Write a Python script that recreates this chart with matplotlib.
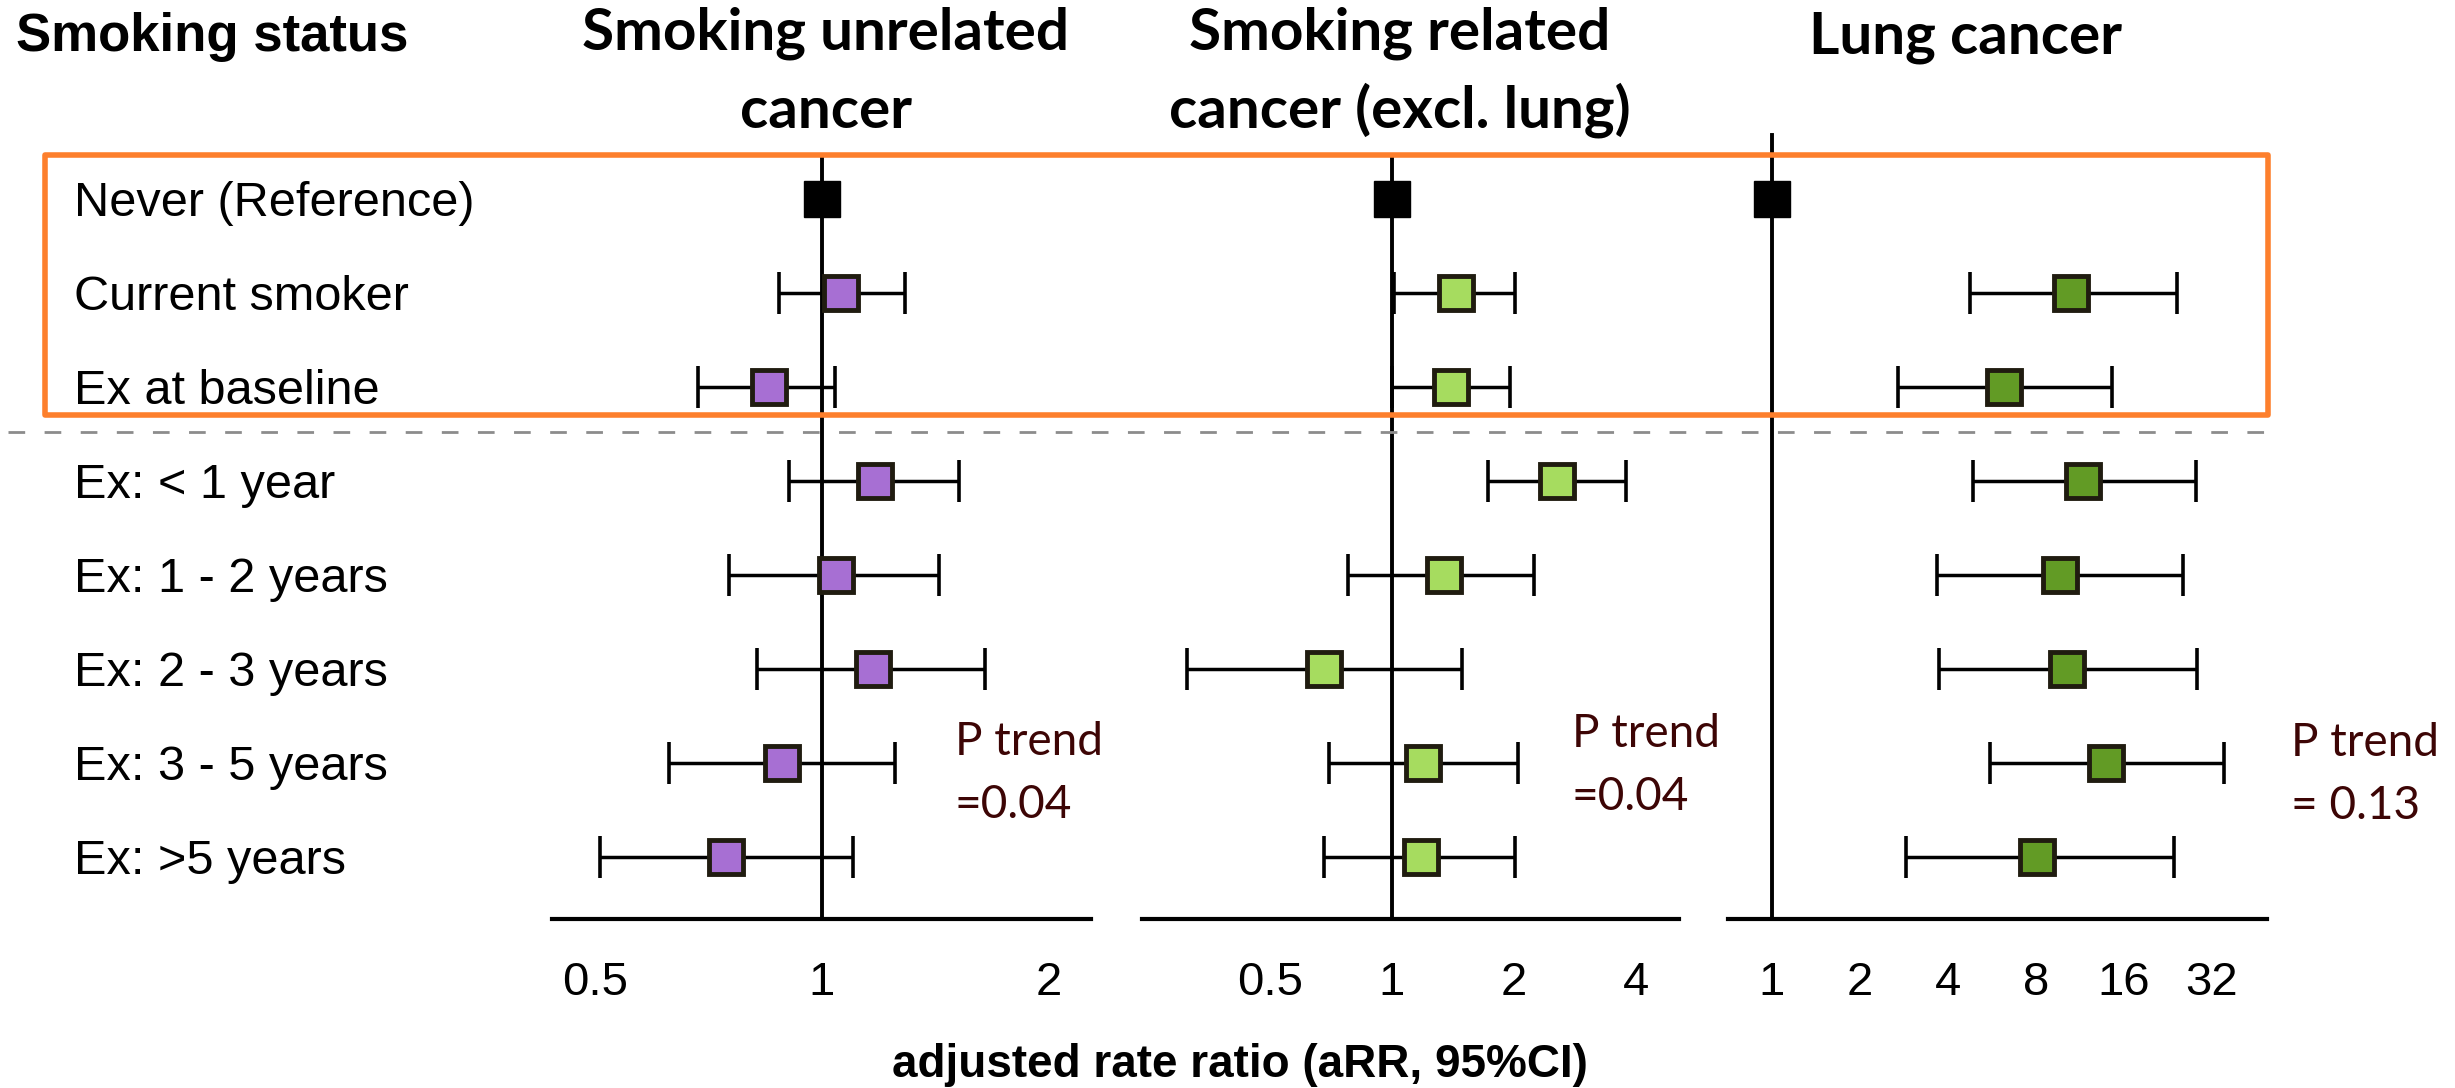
import numpy as np
import matplotlib.pyplot as plt
from matplotlib.patches import Rectangle
from matplotlib.lines import Line2D
from matplotlib.ticker import FixedLocator, NullLocator

# ---- data ----
ROWS = ["Never (Reference)", "Current smoker", "Ex at baseline",
        "Ex: < 1 year", "Ex: 1 - 2 years", "Ex: 2 - 3 years",
        "Ex: 3 - 5 years", "Ex: >5 years"]

unrelated_rr = [1.0, 1.06, 0.85, 1.175, 1.045, 1.17, 0.885, 0.745]
unrelated_lo = [np.nan, 0.877, 0.685, 0.904, 0.753, 0.82, 0.627, 0.508]
unrelated_hi = [np.nan, 1.29, 1.04, 1.52, 1.43, 1.645, 1.25, 1.10]

related_rr = [1.0, 1.44, 1.40, 2.55, 1.34, 0.68, 1.19, 1.18]
related_lo = [np.nan, 1.01, 1.0, 1.73, 0.78, 0.312, 0.70, 0.68]
related_hi = [np.nan, 2.01, 1.95, 3.78, 2.24, 1.49, 2.05, 2.01]

lung_rr = [1.0, 10.5, 6.2, 11.6, 9.7, 10.2, 13.9, 8.07]
lung_lo = [np.nan, 4.76, 2.7, 4.87, 3.67, 3.73, 5.57, 2.88]
lung_hi = [np.nan, 24.3, 14.5, 28.2, 25.5, 28.4, 35.2, 23.7]

TITLES = [["Smoking unrelated", "cancer"],
          ["Smoking related", "cancer (excl. lung)"],
          ["Lung cancer"]]
TICKS = [[0.5, 1, 2], [0.5, 1, 2, 4], [1, 2, 4, 8, 16, 32]]
TICKLABELS = [["0.5", "1", "2"], ["0.5", "1", "2", "4"],
              ["1", "2", "4", "8", "16", "32"]]
PTREND = ["P trend\n=0.04", "P trend\n=0.04", "P trend\n= 0.13"]

# ---- layout (pixels in a 2455x1088 canvas) ----
W, H = 2455, 1088
fig = plt.figure(figsize=(W / 100, H / 100), dpi=100)

def fx(px):
    return px / W

def fy(py):
    return 1 - py / H

ROW0, STEP = 199, 94
AX_TOP, AX_BOT = 135, 919
ylo = (AX_BOT - ROW0) / STEP
yhi = (AX_TOP - ROW0) / STEP

panels = [
    dict(x0=552, x1=1091, one=822, unit=227, rr=unrelated_rr, lo=unrelated_lo,
         hi=unrelated_hi, color='#a76fd3', vtop=158, tx=826, ptx=955),
    dict(x0=1142, x1=1679, one=1392, unit=122, rr=related_rr, lo=related_lo,
         hi=related_hi, color='#a6dc5f', vtop=158, tx=1400, ptx=1572),
    dict(x0=1728, x1=2267, one=1772, unit=88, rr=lung_rr, lo=lung_lo,
         hi=lung_hi, color='#629b25', vtop=135, tx=1965, ptx=2291),
]
pt_base = [755, 747, 756]

y = np.arange(len(ROWS))

for k, p in enumerate(panels):
    ax = fig.add_axes([fx(p['x0']), fy(AX_BOT), fx(p['x1']) - fx(p['x0']),
                       (AX_BOT - AX_TOP) / H])
    ax.patch.set_visible(False)
    ax.set_xscale('log', base=2)
    l = (p['x0'] - p['one']) / p['unit']
    r = (p['x1'] - p['one']) / p['unit']
    ax.set_xlim(2 ** l, 2 ** r)
    ax.set_ylim(ylo, yhi)
    for s in ['top', 'left', 'right']:
        ax.spines[s].set_visible(False)
    ax.spines['bottom'].set_linewidth(3)
    ax.set_yticks([])
    ax.xaxis.set_major_locator(FixedLocator(TICKS[k]))
    ax.xaxis.set_minor_locator(NullLocator())
    ax.set_xticklabels(TICKLABELS[k], family='Liberation Sans')
    ax.tick_params(axis='x', length=0, pad=30, labelsize=34)

    vt = (p['vtop'] - ROW0) / STEP
    ax.plot([1, 1], [vt, ylo], color='black', lw=2.8, clip_on=False, zorder=1)

    rr = np.array(p['rr'])
    lo = np.array(p['lo'])
    hi = np.array(p['hi'])
    ax.errorbar(rr[1:], y[1:], xerr=[rr[1:] - lo[1:], hi[1:] - rr[1:]],
                fmt='none', ecolor='black', elinewidth=2.5, capsize=15,
                capthick=2.6, zorder=2)
    ax.plot(rr[1:], y[1:], 's', ms=24, mfc=p['color'], mec='#201c10',
            mew=3.5, zorder=3)
    ax.plot(rr[0], y[0], 's', ms=26, color='black', zorder=3)

    # column headers
    for j, line in enumerate(TITLES[k]):
        base = 53 if len(TITLES[k]) == 1 else [50, 128][j]
        fig.text(fx(p['tx']), fy(base), line, ha='center', va='baseline',
                 family='Lato', weight='bold', fontsize=42)

    fig.text(fx(p['ptx']), fy(pt_base[k]), PTREND[k].split('\n')[0],
             ha='left', va='baseline', family='Lato', fontsize=33,
             color='#3d0505')
    fig.text(fx(p['ptx']), fy(pt_base[k] + 63), PTREND[k].split('\n')[1],
             ha='left', va='baseline', family='Lato', fontsize=33,
             color='#3d0505')

# row labels
for i, lab in enumerate(ROWS):
    fig.text(fx(74), fy(ROW0 + STEP * i + 17), lab, ha='left', va='baseline',
             family='Liberation Sans', fontsize=35)

fig.text(fx(16), fy(51), "Smoking status", ha='left', va='baseline',
         family='Liberation Sans', weight='bold', fontsize=38)

fig.text(fx(1240), fy(1077), "adjusted rate ratio (aRR, 95%CI)", ha='center',
         va='baseline', family='Liberation Sans', weight='bold', fontsize=33)

# highlight box and separator
fig.patches.append(Rectangle((fx(45), fy(415)), fx(2268) - fx(45),
                             (415 - 155) / H, transform=fig.transFigure,
                             fill=False, edgecolor='#fd7f2c', lw=4,
                             joinstyle='round', zorder=5))
fig.lines.append(Line2D([fx(8), fx(2270)], [fy(432), fy(432)],
                        transform=fig.transFigure, color='#8c8c8c', lw=2,
                        dashes=(6, 7), zorder=5))

fig.savefig('out.png', dpi=100)
